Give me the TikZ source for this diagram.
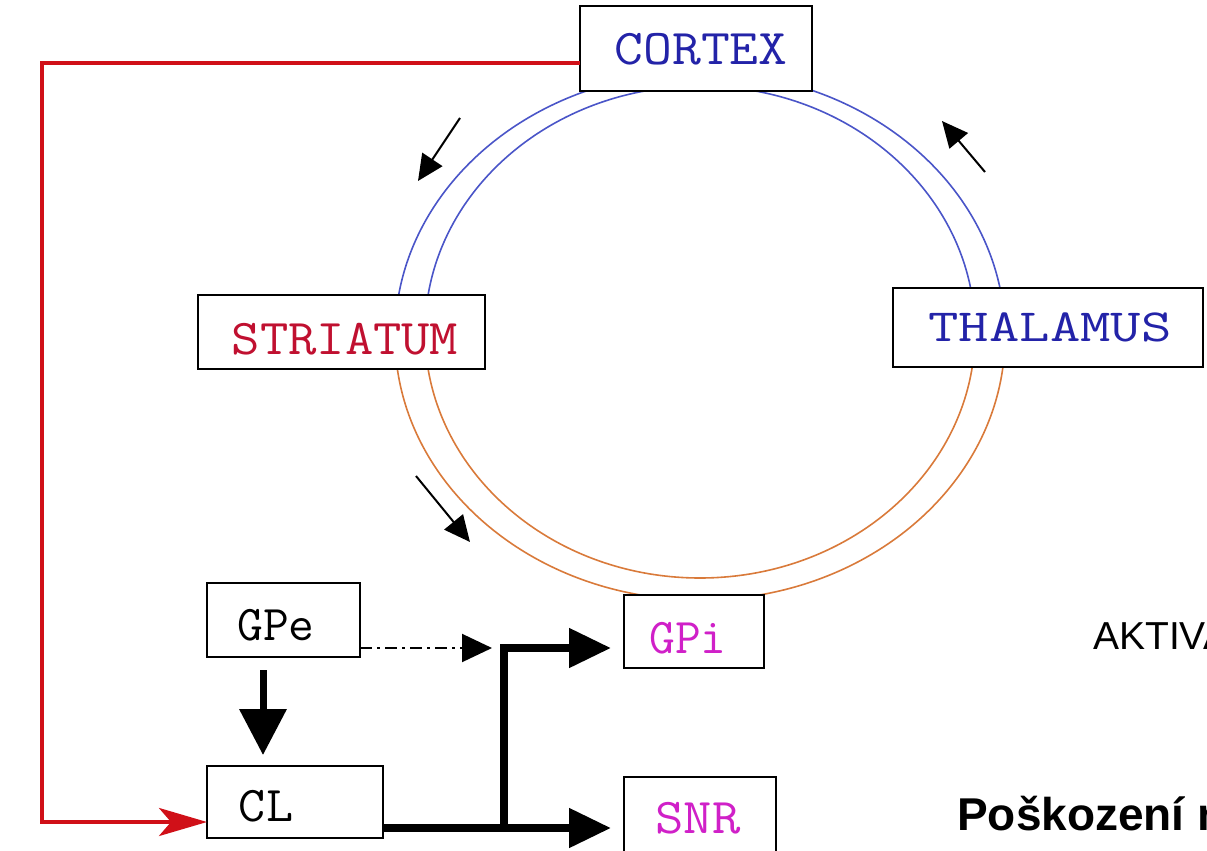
\documentclass[tikz,border=0pt]{standalone}
\usepackage{graphicx}
\usepackage{fontspec}
\newfontfamily\arialfont{Liberation Sans}
\usetikzlibrary{arrows.meta,calc}

\definecolor{ringblue}{HTML}{4A55C8}
\definecolor{ringorange}{HTML}{D97A3A}
\definecolor{txtblue}{HTML}{2323A8}
\definecolor{txtred}{HTML}{C01030}
\definecolor{txtmag}{HTML}{D020C8}
\definecolor{pathred}{HTML}{D01018}

\begin{document}
\begin{tikzpicture}[x=1pt,y=-1pt,
  box/.style={draw=black, line width=2.2pt, fill=white, inner sep=0pt, outer sep=0pt},
  lab/.style={font=\fontsize{50}{60}\selectfont\ttfamily, inner sep=0pt},
  ring/.style={line width=1.6pt},
  blk/.style={line width=8pt, line join=miter, -{Triangle[length=42pt,width=38pt]}},
  flow/.style={line width=2pt, -{Triangle[length=26pt,width=24pt]}},
  redpath/.style={draw=pathred, line width=4pt, line join=miter,
    -{Stealth[length=48pt,width=28pt,inset=12pt]}}]
\useasboundingbox (0,0) rectangle (1207,851);

% the loop: blue upper half, orange lower half
\draw[ring, ringblue]   (1005,336) arc[start angle=0, end angle=-180, x radius=305, y radius=264];
\draw[ring, ringblue]   (975,332)  arc[start angle=0, end angle=-180, x radius=275, y radius=246];
\draw[ring, ringorange] (1005,336) arc[start angle=0, end angle=180, x radius=305, y radius=264];
\draw[ring, ringorange] (975,332)  arc[start angle=0, end angle=180, x radius=275, y radius=246];

% direction arrows along the loop
\coordinate (a1s) at (460,118); \coordinate (a1e) at (418,181);
\coordinate (a2s) at (985,172); \coordinate (a2e) at (942,121);
\coordinate (a3s) at (416,476); \coordinate (a3e) at (470,542);
\draw[flow] (a1s) -- (a1e);
\draw[flow] (a2s) -- (a2e);
\draw[flow] (a3s) -- (a3e);

% boxes
\node[box, minimum width=232pt, minimum height=85pt] (cortex)   at (696,48.5) {};
\node[box, minimum width=287pt, minimum height=74pt] (striatum) at (341.5,332) {};
\node[box, minimum width=310pt, minimum height=79pt] (thalamus) at (1048,327.5) {};
\node[box, minimum width=153pt, minimum height=74pt] (gpe)      at (283.5,620) {};
\node[box, minimum width=176pt, minimum height=72pt] (cl)       at (295,802) {};
\node[box, minimum width=140pt, minimum height=73pt] (gpi)      at (694,631.5) {};
\node[box, minimum width=152pt, minimum height=80pt] (snr)      at (700,817) {};

% labels
\node[lab, text=txtblue] (tcortex)   at (701,49)   {\scalebox{1.12}[1]{CORTEX}};
\node[lab, text=txtred]  (tstriatum) at (345,339)  {\scalebox{1.1}[1]{STRIATUM}};
\node[lab, text=txtblue] (tthalamus) at (1050,327) {\scalebox{1.18}[0.92]{THALAMUS}};
\node[lab]               (tgpe)      at (276,625)  {GPe};
\node[lab]               (tcl)       at (266,806)  {\scalebox{1.05}[1]{CL}};
\node[lab, text=txtmag]  (tgpi)      at (688,638)  {GPi};
\node[lab, text=txtmag]  (tsnr)      at (698,818)  {\scalebox{1.1}[1]{SNR}};

% cortex to CL pathway
\draw[redpath] (cortex.west |- 0,63) -- (42,63) -- (42,822) -- (cl.west |- 0,822);

% GPe to CL
\draw[line width=7pt, -{Triangle[length=46pt,width=46pt]}]
  ($(gpe.south west)+(56,13)$) -- ($(cl.north west)+(56,-11)$);

% GPe to GPi (dash-dot)
\coordinate (dd) at (492,648);
\draw[line width=2pt, dash pattern=on 12pt off 5pt on 3pt off 5pt,
  -{Triangle[length=30pt,width=28pt]}] (gpe.east |- 0,648) -- (dd);

% CL output branching to GPi and SNR
\coordinate (split) at (504,828);
\coordinate (gpiin) at (611,648);
\coordinate (snrin) at (611,828);
\draw[blk] (cl.east |- 0,828) -- (snrin);
\draw[blk] (split) |- (gpiin);

% side texts
\node[anchor=base west, inner sep=0pt, font=\arialfont\fontsize{39}{46}\selectfont] (aktiv) at (1093,649) {AKTIVA};
\node[anchor=base west, inner sep=0pt, font=\arialfont\bfseries\fontsize{46}{54}\selectfont] (posk) at (957,830) {Poškození n};
\end{tikzpicture}
\end{document}
